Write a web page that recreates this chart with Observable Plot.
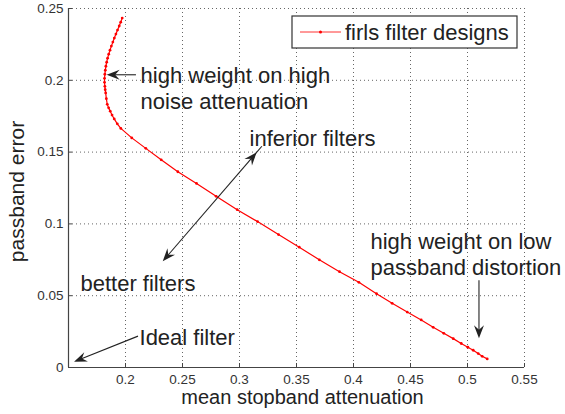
<!DOCTYPE html>
<html>
<head>
<meta charset="utf-8">
<script src="https://cdn.jsdelivr.net/npm/d3@7"></script>
<script src="https://cdn.jsdelivr.net/npm/@observablehq/plot@0.6"></script>
<style>
  html, body { margin: 0; padding: 0; background: #fff; }
</style>
</head>
<body>
<div id="chart"></div>
<script>
// firls designs: mean stopband attenuation vs. passband error
const stopband = [
  0.1971, 0.1958, 0.1945, 0.1930, 0.1916, 0.1902, 0.1889, 0.1876, 0.1864, 0.1853,
  0.1843, 0.1835, 0.1828, 0.1823, 0.1819, 0.1816, 0.1816, 0.1819, 0.1822, 0.1826,
  0.1832, 0.1840, 0.1852, 0.1866, 0.1882, 0.1901, 0.1928, 0.1959, 0.2055, 0.2178,
  0.2313, 0.2459, 0.2623, 0.2795, 0.2980, 0.3158, 0.3342, 0.3524, 0.3700, 0.3877,
  0.4047, 0.4202, 0.4339, 0.4471, 0.4594, 0.4699, 0.4792, 0.4875, 0.4945, 0.5003,
  0.5050, 0.5094, 0.5129, 0.5173
];
const passbandError = [
  0.2433, 0.2405, 0.2378, 0.2350, 0.2322, 0.2294, 0.2266, 0.2238, 0.2210, 0.2182,
  0.2154, 0.2126, 0.2098, 0.2070, 0.2042, 0.2014, 0.1986, 0.1958, 0.1935, 0.1912,
  0.1872, 0.1833, 0.1808, 0.1785, 0.1758, 0.1731, 0.1697, 0.1665, 0.1599, 0.1526,
  0.1446, 0.1363, 0.1282, 0.1192, 0.1099, 0.1016, 0.0926, 0.0838, 0.0750, 0.0667,
  0.0593, 0.0514, 0.0447, 0.0386, 0.0331, 0.0280, 0.0238, 0.0201, 0.0167, 0.0141,
  0.0120, 0.0097, 0.0078, 0.0060
];

const xTicks = [0.15, 0.2, 0.25, 0.3, 0.35, 0.4, 0.45, 0.5, 0.55];
const xTickLabels = ["", "0.2", "0.25", "0.3", "0.35", "0.4", "0.45", "0.5", "0.55"];
const yTicks = [0, 0.05, 0.1, 0.15, 0.2, 0.25];
const yTickLabels = ["0", "0.05", "0.1", "0.15", "0.2", "0.25"];

const xLabel = "mean stopband attenuation";
const yLabel = "passband error";
const seriesName = "firls filter designs";

// annotation text, anchored at its left edge and vertical middle
const noteText = [
  "high weight on high\nnoise attenuation",
  "inferior filters",
  "better filters",
  "high weight on low\npassband distortion",
  "Ideal filter"
];
const noteX = [0.2132, 0.3088, 0.1605, 0.4149, 0.2123];
const noteY = [0.1951, 0.1597, 0.0590, 0.0795, 0.0215];

// annotation arrows: tail (x1, y1) to tip (x2, y2)
const arrowX1 = [0.2096, 0.3155, 0.5105, 0.2114];
const arrowY1 = [0.2035, 0.1495, 0.0604, 0.0215];
const arrowX2 = [0.1839, 0.2331, 0.5105, 0.1553];
const arrowY2 = [0.2035, 0.0736, 0.0201, 0.0037];
const arrowBoth = [false, true, false, false];

const points = stopband.map((x, i) => ({x, y: passbandError[i]}));
const notes = noteText.map((text, i) => ({text, x: noteX[i], y: noteY[i]}));
const arrows = arrowX1.map((x1, i) => ({
  x1, y1: arrowY1[i], x2: arrowX2[i], y2: arrowY2[i], both: arrowBoth[i]
}));

const FONT = "'Liberation Sans', Arial, Helvetica, sans-serif";
const INK = "#222";

// filled, notched arrow heads
function headPath(tx, ty, ux, uy) {
  const L = 13, W = 5, N = 8.5;
  const nx = -uy, ny = ux;
  return `M${tx},${ty}L${tx - L * ux + W * nx},${ty - L * uy + W * ny}` +
         `L${tx - N * ux},${ty - N * uy}L${tx - L * ux - W * nx},${ty - L * uy - W * ny}Z`;
}

function arrowMark(index, scales) {
  const g = d3.create("svg:g");
  for (const a of arrows) {
    const px1 = scales.x(a.x1), py1 = scales.y(a.y1);
    const px2 = scales.x(a.x2), py2 = scales.y(a.y2);
    const len = Math.hypot(px2 - px1, py2 - py1);
    const ux = (px2 - px1) / len, uy = (py2 - py1) / len;
    g.append("line")
      .attr("x1", a.both ? px1 - 8 * ux : px1).attr("y1", a.both ? py1 - 8 * uy : py1)
      .attr("x2", px2 - 8 * ux).attr("y2", py2 - 8 * uy)
      .attr("stroke", INK).attr("stroke-width", 1.1);
    g.append("path").attr("d", headPath(px2, py2, ux, uy)).attr("fill", INK);
    if (a.both) g.append("path").attr("d", headPath(px1, py1, -ux, -uy)).attr("fill", INK);
  }
  return g.node();
}

function legendMark(index, scales, values, dims) {
  const right = dims.width - dims.marginRight - 7;
  const top = dims.marginTop + 8;
  const w = 225, h = 32, left = right - w;
  const g = d3.create("svg:g");
  g.append("rect").attr("x", left).attr("y", top).attr("width", w).attr("height", h)
    .attr("fill", "#fff").attr("stroke", "#333").attr("stroke-width", 1.2);
  const cy = top + h / 2;
  g.append("line").attr("x1", left + 8).attr("x2", left + 49).attr("y1", cy).attr("y2", cy)
    .attr("stroke", "#f33").attr("stroke-width", 1);
  g.append("circle").attr("cx", left + 28.5).attr("cy", cy).attr("r", 1.5).attr("fill", "red");
  g.append("text").attr("x", left + 53).attr("y", cy).attr("dy", "0.35em")
    .attr("text-anchor", "start")
    .attr("font-size", 22).attr("fill", INK).text(seriesName);
  return g.node();
}

const chart = Plot.plot({
  width: 565,
  height: 414,
  marginLeft: 68,
  marginRight: 41,
  marginTop: 8,
  marginBottom: 47,
  style: {fontFamily: FONT, background: "#fff", color: "#333", overflow: "visible"},
  x: {domain: [0.15, 0.55]},
  y: {domain: [0, 0.25]},
  marks: [
    Plot.gridX(xTicks, {stroke: "#555", strokeOpacity: 0.9, strokeDasharray: "1,3"}),
    Plot.gridY(yTicks, {stroke: "#555", strokeOpacity: 0.9, strokeDasharray: "1,3"}),
    Plot.ruleX([0.15], {stroke: "#444", strokeWidth: 1.2}),
    Plot.ruleY([0], {stroke: "#444", strokeWidth: 1.2}),
    Plot.axisX(xTicks, {
      tickSize: -4, tickPadding: 11, fontSize: 13.5, label: null,
      tickFormat: (d) => xTickLabels[xTicks.indexOf(d)], stroke: "#444"
    }),
    Plot.axisY(yTicks, {
      tickSize: -4, tickPadding: 9, fontSize: 13.5, label: null,
      tickFormat: (d) => yTickLabels[yTicks.indexOf(d)], stroke: "#444"
    }),
    Plot.line(points, {x: "x", y: "y", stroke: "red", strokeWidth: 1.2}),
    Plot.dot(points, {x: "x", y: "y", r: 1.4, fill: "red", stroke: null}),
    Plot.text(notes, {
      x: "x", y: "y", text: "text", textAnchor: "start", lineAnchor: "middle",
      fontSize: 22, lineHeight: 1.18, fill: INK
    }),
    Plot.text([xLabel], {
      frameAnchor: "bottom", lineAnchor: "middle", textAnchor: "middle",
      dx: 6, dy: 30, fontSize: 20, fill: INK
    }),
    Plot.text([yLabel], {
      frameAnchor: "left", lineAnchor: "middle", textAnchor: "middle",
      rotate: -90, dx: -51, dy: 3.5, fontSize: 21, fill: INK
    }),
    arrowMark,
    legendMark
  ]
});

document.getElementById("chart").append(chart);
</script>
</body>
</html>
